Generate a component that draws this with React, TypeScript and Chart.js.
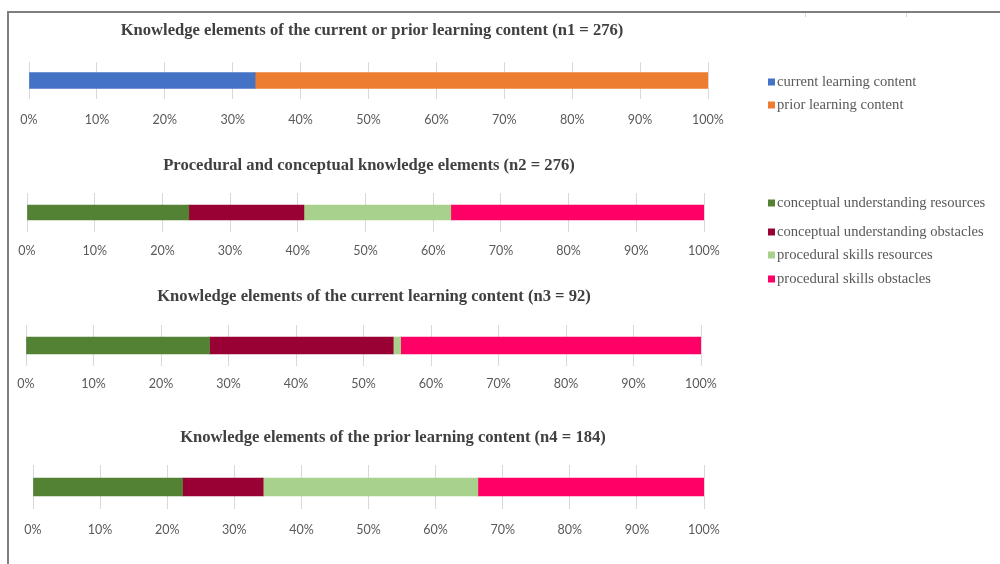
import React, { useEffect, useRef } from 'react';
import { Chart, registerables } from 'chart.js';

Chart.register(...registerables);

// ---------- data ----------
const chartTitles = [
  'Knowledge elements of the current or prior learning content (n1 = 276)',
  'Procedural and conceptual knowledge elements (n2 = 276)',
  'Knowledge elements of the current learning content (n3 = 92)',
  'Knowledge elements of the prior learning content (n4 = 184)',
];

const contentLabels = ['current learning content', 'prior learning content'];
const contentShares = [33.3, 66.7];

const knowledgeLabels = [
  'conceptual understanding resources',
  'conceptual understanding obstacles',
  'procedural skills resources',
  'procedural skills obstacles',
];
const allShares = [23.9, 17.0, 21.7, 37.4];
const currentShares = [27.2, 27.2, 1.1, 44.5];
const priorShares = [22.3, 12.0, 32.0, 33.7];

const xTickLabels = ['0%', '10%', '20%', '30%', '40%', '50%', '60%', '70%', '80%', '90%', '100%'];

// ---------- styles ----------
const contentColors = ['#4472C4', '#ED7D31'];
const knowledgeColors = ['#548235', '#990033', '#A9D18E', '#FF0066'];

type Panel = {
  title: string;
  labels: string[];
  values: number[];
  colors: string[];
  titleX: number;
  titleY: number;
  top: number;
  bottom: number;
  left: number;
  right: number;
  bar: number;
  labelPad: number;
  legendYs?: number[];
};

const panels: Panel[] = [
  { title: chartTitles[0], labels: contentLabels, values: contentShares, colors: contentColors,
    titleX: 372, titleY: 31, top: 62, bottom: 99, left: 29, right: 708, bar: 16, labelPad: 13, legendYs: [82, 105] },
  { title: chartTitles[1], labels: knowledgeLabels, values: allShares, colors: knowledgeColors,
    titleX: 369, titleY: 166, top: 193, bottom: 232, left: 27, right: 704, bar: 15, labelPad: 11, legendYs: [203, 232, 255, 279] },
  { title: chartTitles[2], labels: knowledgeLabels, values: currentShares, colors: knowledgeColors,
    titleX: 374, titleY: 297, top: 325, bottom: 366, left: 26, right: 701, bar: 17, labelPad: 10 },
  { title: chartTitles[3], labels: knowledgeLabels, values: priorShares, colors: knowledgeColors,
    titleX: 393, titleY: 438, top: 465, bottom: 509, left: 33, right: 704, bar: 18, labelPad: 13 },
];

const panelTitlePlugin = {
  id: 'panelTitle',
  afterDraw(chart: any, _args: any, opts: any) {
    if (!opts || !opts.text) return;
    const ctx = chart.ctx;
    ctx.save();
    ctx.font = 'bold 16.6px "Liberation Serif"';
    ctx.fillStyle = '#404040';
    ctx.textAlign = 'center';
    ctx.textBaseline = 'middle';
    ctx.fillText(opts.text, opts.x, opts.y);
    ctx.restore();
  },
};

const sideLegendPlugin = {
  id: 'sideLegend',
  afterDraw(chart: any, _args: any, opts: any) {
    if (!opts || !opts.ys) return;
    const ctx = chart.ctx;
    ctx.save();
    ctx.font = '14.6px "Liberation Serif"';
    ctx.textAlign = 'left';
    ctx.textBaseline = 'middle';
    chart.data.datasets.forEach((ds: any, i: number) => {
      const y = opts.ys[i];
      if (y === undefined) return;
      ctx.fillStyle = ds.backgroundColor;
      ctx.fillRect(opts.x, y - 3.5, 7, 7);
      ctx.fillStyle = '#595959';
      ctx.fillText(ds.label, opts.x + 9, y);
    });
    ctx.restore();
  },
};

function PanelChart({ p }: { p: Panel }) {
  const ref = useRef<HTMLCanvasElement | null>(null);
  const canvasTop = p.titleY - 16;
  const legendBottom = p.legendYs ? Math.max(...p.legendYs) + 10 : 0;
  const height = Math.max(p.bottom + p.labelPad + 24, legendBottom) - canvasTop;

  useEffect(() => {
    if (!ref.current) return;
    const chart = new Chart(ref.current, {
      type: 'bar',
      data: {
        labels: [''],
        datasets: p.labels.map((label, i) => ({
          label,
          data: [p.values[i]],
          backgroundColor: p.colors[i],
          borderWidth: 0,
          barThickness: p.bar,
        })),
      },
      options: {
        indexAxis: 'y',
        responsive: false,
        animation: false,
        devicePixelRatio: 1,
        layout: {
          padding: { top: p.top - canvasTop, left: p.left, right: 1000 - p.right, bottom: 0 },
        },
        plugins: {
          legend: { display: false },
          title: { display: false },
          tooltip: { enabled: false },
          panelTitle: { text: p.title, x: p.titleX, y: p.titleY - canvasTop },
          sideLegend: p.legendYs ? { x: 768, ys: p.legendYs.map((y) => y - canvasTop) } : {},
        } as any,
        scales: {
          x: {
            stacked: true,
            min: 0,
            max: 100,
            ticks: {
              stepSize: 10,
              callback: (_v: any, idx: number) => xTickLabels[idx],
              color: '#595959',
              font: { family: 'Lato', size: 12.5 },
              padding: p.labelPad,
              maxRotation: 0,
            },
            grid: { color: '#d9d9d9', drawTicks: false, lineWidth: 1 },
            border: { display: false },
            afterFit: (scale: any) => {
              scale.height = height - (p.bottom - canvasTop);
            },
          },
          y: { stacked: true, display: false },
        },
      },
      plugins: [panelTitlePlugin, sideLegendPlugin],
    });
    return () => chart.destroy();
  }, []);

  return (
    <canvas
      ref={ref}
      width={1000}
      height={height}
      style={{ position: 'absolute', left: 0, top: canvasTop, width: 1000, height }}
    />
  );
}

export default function App() {
  return (
    <div
      style={{
        position: 'fixed',
        left: 0,
        top: 0,
        width: 1000,
        height: 564,
        background: '#ffffff',
        overflow: 'hidden',
      }}
    >
      <div
        style={{
          position: 'absolute',
          left: 7,
          top: 11,
          width: 1000,
          height: 600,
          borderTop: '2px solid #7f7f7f',
          borderLeft: '2px solid #7f7f7f',
        }}
      />
      <div style={{ position: 'absolute', left: 805, top: 13, width: 1, height: 4, background: '#d9d9d9' }} />
      <div style={{ position: 'absolute', left: 906, top: 13, width: 1, height: 4, background: '#d9d9d9' }} />
      {panels.map((p, i) => (
        <PanelChart key={i} p={p} />
      ))}
    </div>
  );
}
